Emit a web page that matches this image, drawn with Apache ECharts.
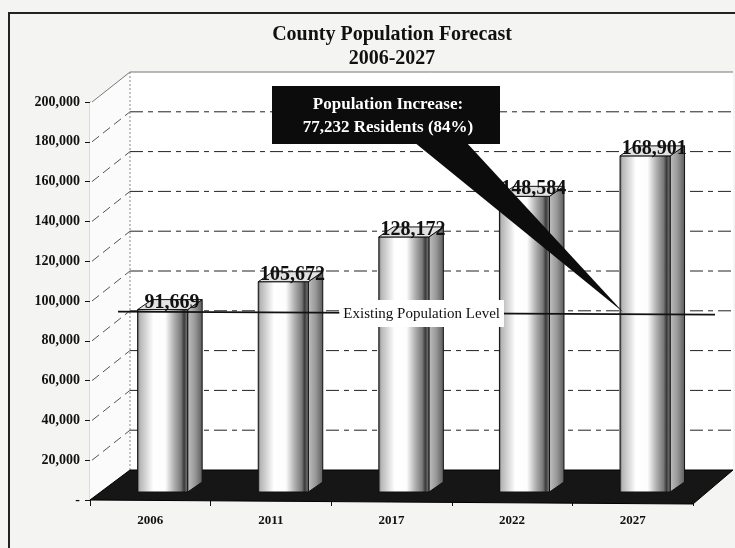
<!DOCTYPE html>
<html><head><meta charset="utf-8">
<script src="https://cdn.jsdelivr.net/npm/echarts@6/dist/echarts.min.js"></script>
<style>html,body{margin:0;padding:0;background:#f4f4f2;}#c{width:735px;height:548px;}</style>
</head><body><div id="c"></div>
<script>
const categories = ['2006', '2011', '2017', '2022', '2027'];
const population = [91669, 105672, 128172, 148584, 168901];
const yTicks = [0, 20000, 40000, 60000, 80000, 100000, 120000, 140000, 160000, 180000, 200000];
const existingLevel = 91669;
const existingLabel = 'Existing Population Level';
const titleLines = ['County Population Forecast', '2006-2027'];
const calloutLines = ['Population Increase:', '77,232 Residents (84%)'];

const SERIF = '"Liberation Serif","DejaVu Serif",serif';
const DX = 40, DY = -30;

const chart = echarts.init(document.getElementById('c'), null, {renderer: 'canvas'});

function fmt(v) { return v === 0 ? '-' : v.toLocaleString('en-US'); }

const frameSeries = {
  type: 'custom', z: 1, silent: true,
  data: [[0]],
  renderItem(params, api) {
    const cs = params.coordSys;
    const x0 = cs.x, x1 = cs.x + cs.width;
    const yTop = api.coord([0, yTicks[yTicks.length - 1]])[1];
    const yBot = api.coord([0, 0])[1];
    const ch = [];
    ch.push({type: 'polygon', shape: {points: [[x0 + DX, yTop + DY], [x1 + DX, yTop + DY], [x1 + DX, yBot + DY], [x0 + DX, yBot + DY]]}, style: {fill: '#ffffff'}});
    ch.push({type: 'polygon', shape: {points: [[x0, yTop], [x0 + DX, yTop + DY], [x0 + DX, yBot + DY], [x0, yBot]]}, style: {fill: '#fbfbfb'}});
    yTicks.forEach(v => {
      if (v === 0) return;
      const y = api.coord([0, v])[1];
      const top = v === yTicks[yTicks.length - 1];
      ch.push({type: 'line', shape: {x1: x0 + DX, y1: y + DY, x2: x1 + DX, y2: y + DY},
        style: {stroke: top ? '#777' : '#222', lineWidth: 1, lineDash: top ? null : [13, 5, 5, 5]}});
      ch.push({type: 'line', shape: {x1: x0 + 2, y1: y, x2: x0 + DX, y2: y + DY},
        style: {stroke: top ? '#777' : '#555', lineWidth: 1, lineDash: top ? null : [9, 5]}});
    });
    ch.push({type: 'line', shape: {x1: x0 + DX, y1: yTop + DY, x2: x0 + DX, y2: yBot + DY}, style: {stroke: '#888', lineWidth: 1, lineDash: [2, 2]}});
    ch.push({type: 'polygon', shape: {points: [[x0, yBot], [x0 + DX, yBot + DY], [x1 + DX, yBot + DY], [x1, yBot + 4]]}, style: {fill: '#161616', stroke: '#000', lineWidth: 1}});
    return {type: 'group', children: ch};
  }
};

const barSeries = {
  type: 'custom', z: 3, silent: true,
  data: categories.map((c, i) => [i, population[i]]),
  renderItem(params, api) {
    const c = api.coord([api.value(0), api.value(1)]);
    const b = api.coord([api.value(0), 0]);
    const band = api.size([1, 0])[0];
    const fw = band * 0.415;
    const left = c[0] - band * 0.105;
    const top = c[1] - 8;
    const bottom = b[1] - 8;
    const sd = band * 0.12, su = 10;
    const front = new echarts.graphic.LinearGradient(0, 0, 1, 0, [
      {offset: 0, color: '#444'}, {offset: 0.05, color: '#b5b5b5'}, {offset: 0.18, color: '#d8d8d8'},
      {offset: 0.32, color: '#ffffff'}, {offset: 0.55, color: '#fdfdfd'}, {offset: 0.72, color: '#b0b0b0'},
      {offset: 0.86, color: '#7a7a7a'}, {offset: 0.92, color: '#3a3a3a'}, {offset: 1, color: '#8a8a8a'}]);
    const side = new echarts.graphic.LinearGradient(0, 0, 1, 0, [
      {offset: 0, color: '#c0c0c0'}, {offset: 0.5, color: '#999'}, {offset: 1, color: '#5a5a5a'}]);
    const ch = [
      {type: 'polygon', shape: {points: [[left + fw, top], [left + fw + sd, top - su], [left + fw + sd, bottom - su], [left + fw, bottom]]},
        style: {fill: side, stroke: '#111', lineWidth: 1}},
      {type: 'rect', shape: {x: left, y: top, width: fw, height: bottom - top}, style: {fill: front, stroke: '#111', lineWidth: 1}},
      {type: 'polygon', shape: {points: [[left, top], [left + sd, top - su], [left + fw + sd, top - su], [left + fw, top]]},
        style: {fill: '#e2e2e2', stroke: '#111', lineWidth: 1}},
      {type: 'text', style: {x: left + (fw + sd) / 2 + 2, y: top - su + 3, text: fmt(api.value(1)),
        font: 'bold 20px ' + SERIF, fill: '#111', align: 'center', verticalAlign: 'middle'}}
    ];
    return {type: 'group', children: ch};
  }
};

const refSeries = {
  type: 'custom', z: 5, silent: true,
  data: [[0, existingLevel]],
  renderItem(params, api) {
    const cs = params.coordSys;
    const y = api.coord([0, api.value(1)])[1] - 5;
    const xl = cs.x + 28, xr = cs.x + cs.width + 22;
    const mid = cs.x + cs.width * 0.55;
    return {type: 'group', children: [
      {type: 'line', shape: {x1: xl, y1: y - 1, x2: xr, y2: y + 2}, style: {stroke: '#111', lineWidth: 1.6}},
      {type: 'text', style: {x: mid, y: y + 1, text: existingLabel, font: '15px ' + SERIF, fill: '#111',
        align: 'center', verticalAlign: 'middle', backgroundColor: '#fff', padding: [6, 4, 6, 4]}}
    ]};
  }
};

chart.setOption({
  backgroundColor: '#f4f4f2',
  animation: false,
  title: [
    {text: titleLines[0] + '\n' + titleLines[1], left: 387, textAlign: 'center', top: 18,
      textStyle: {fontFamily: SERIF, fontWeight: 'bold', fontSize: 20, color: '#111', lineHeight: 24}}
  ],
  grid: {left: 90, right: 42, top: 102, bottom: 48},
  xAxis: {
    type: 'category', data: categories,
    axisLine: {show: false},
    axisTick: {show: true, length: 6, lineStyle: {color: '#111'}},
    axisLabel: {margin: 14, fontFamily: SERIF, fontWeight: 'bold', fontSize: 13, color: '#111'}
  },
  yAxis: {
    type: 'value', min: 0, max: 200000, interval: 20000,
    axisLine: {show: true, lineStyle: {color: '#111', width: 1.2}},
    axisTick: {show: true, length: 5, lineStyle: {color: '#111'}},
    splitLine: {show: false},
    axisLabel: {formatter: fmt, margin: 10, fontFamily: SERIF, fontWeight: 'bold', fontSize: 14, color: '#111'}
  },
  graphic: [
    {type: 'rect', z: 0, shape: {x: 9, y: 13, width: 800, height: 600}, style: {fill: 'none', stroke: '#222', lineWidth: 2}},
    {type: 'polygon', z: 100, shape: {points: [[414, 142], [466, 142], [623, 312]]}, style: {fill: '#0c0c0c'}},
    {type: 'rect', z: 100, shape: {x: 272, y: 86, width: 228, height: 58}, style: {fill: '#0c0c0c'}},
    {type: 'text', z: 101, style: {x: 388, y: 116, text: calloutLines.join('\n'), font: 'bold 17px ' + SERIF,
      lineHeight: 23, fill: '#fff', align: 'center', verticalAlign: 'middle'}}
  ],
  series: [frameSeries, barSeries, refSeries]
});
</script></body></html>
